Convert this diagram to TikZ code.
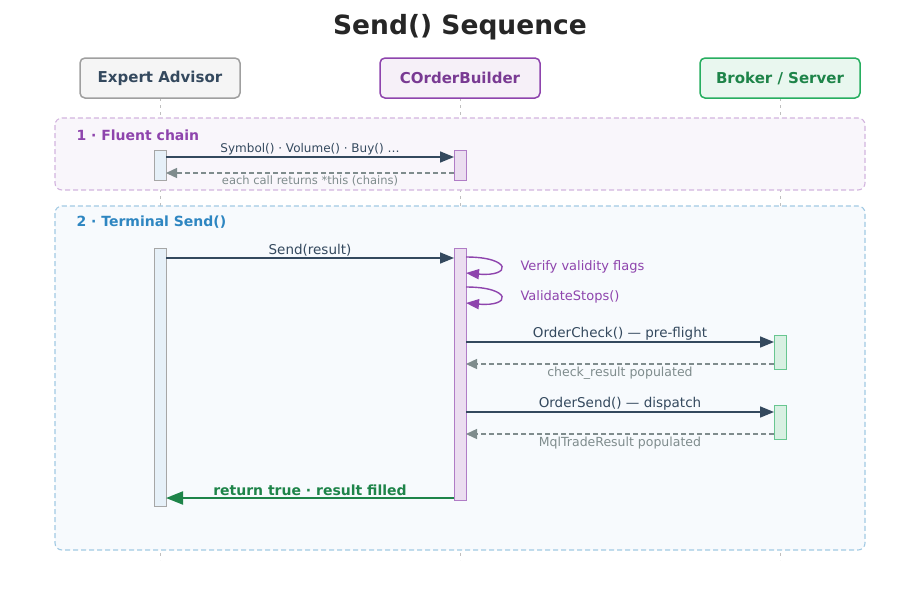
\documentclass[tikz,border=0pt]{standalone}
\usepackage{fontspec}
\setmainfont{DejaVu Sans}
\usetikzlibrary{arrows.meta}
\definecolor{dk}{HTML}{34495E}
\definecolor{gr}{HTML}{7F8C8D}
\definecolor{pu}{HTML}{8E44AD}
\definecolor{bl}{HTML}{2E86C1}
\definecolor{gn}{HTML}{1E8449}
\definecolor{gnb}{HTML}{27AE60}
\tikzset{
 hdr/.style={draw, line width=1.5pt, rounded corners=5pt, minimum width=160pt, minimum height=40pt, font=\bfseries\fontsize{15}{17}\selectfont},
 life/.style={draw=gray!50, dash pattern=on 3pt off 4pt, line width=0.8pt},
 grp/.style={dash pattern=on 5pt off 3pt, line width=1.1pt, rounded corners=7pt},
 bar/.style={draw, line width=1pt, minimum width=12pt, inner sep=0pt},
 msg/.style={draw=dk, line width=1.6pt, -{Triangle[length=14pt,width=11pt]}},
 ret/.style={draw=gr, line width=1.4pt, dash pattern=on 5pt off 3pt, -{Triangle[length=11pt,width=10pt]}},
 self/.style={draw=pu, line width=1.4pt, -{Triangle[length=13pt,width=10pt]}},
 lab/.style={font=\fontsize{13.5}{15}\selectfont, text=dk},
 rlab/.style={font=\fontsize{12.5}{14}\selectfont, text=gr},
}
\begin{document}
\begin{tikzpicture}[x=1pt,y=-1pt]
\useasboundingbox (0,0) rectangle (920,600);
\node[font=\bfseries\fontsize{26.5}{30}\selectfont, text=black!85] (title) at (460,27) {Send() Sequence};
% lifelines
\draw[life] (160,98) -- (160,560);
\draw[life] (460,98) -- (460,560);
\draw[life] (780,98) -- (780,560);
% groups
\draw[grp, draw=pu!40, fill=pu!5] (55,118) rectangle (865,190);
\node[anchor=west, text=pu, font=\bfseries\fontsize{14}{16}\selectfont] (g1) at (73,135) {1 · Fluent chain};
\draw[grp, draw=bl!45, fill=bl!4] (55,206) rectangle (865,550);
\node[anchor=west, text=bl, font=\bfseries\fontsize{14}{16}\selectfont] (g2) at (73,222) {2 · Terminal Send()};
% headers
\node[hdr, draw=gray!75, fill=gray!8, text=dk] (ea) at (160,78) {Expert Advisor};
\node[hdr, draw=pu, fill=pu!8, text=pu!85!black] (cb) at (460,78) {COrderBuilder};
\node[hdr, draw=gnb, fill=gnb!10, text=gn] (br) at (780,78) {Broker / Server};
% bars group 1
\node[bar, draw=gray!70, fill=bl!12, minimum height=30pt] (ea1) at (160,165) {};
\node[bar, draw=pu!70, fill=pu!18, minimum height=30pt] (cb1) at (460,165) {};
\draw[msg] (166,157) -- node[lab, font=\fontsize{12}{14}\selectfont, above=-2pt]{Symbol() · Volume() · Buy() …} (454,157);
\draw[ret] (454,173) -- node[rlab, font=\fontsize{11.5}{13}\selectfont, below=-1pt]{each call returns *this (chains)} (166,173);
% group 2 bars
\node[bar, draw=gray!70, fill=bl!12, minimum height=258pt] (ea2) at (160,377) {};
\node[bar, draw=pu!70, fill=pu!18, minimum height=252pt] (cb2) at (460,374) {};
\node[bar, draw=gnb!70, fill=gnb!18, minimum height=34pt] (br1) at (780,352) {};
\node[bar, draw=gnb!70, fill=gnb!18, minimum height=34pt] (br2) at (780,422) {};
\draw[msg] (166,258) -- node[lab, above=-2pt]{Send(result)} (454,258);
\draw[self] (466,257) .. controls (512,257) and (512,277) .. (466,273);
\node[anchor=west, text=pu, font=\fontsize{13}{15}\selectfont] (v1) at (517,267) {Verify validity flags};
\draw[self] (466,287) .. controls (512,287) and (512,307) .. (466,303);
\node[anchor=west, text=pu, font=\fontsize{13}{15}\selectfont] (v2) at (517,297) {ValidateStops()};
\draw[msg] (466,342) -- node[lab, above=-2pt]{OrderCheck() — pre-flight} (774,342);
\draw[ret] (774,364) -- node[rlab, below=-1pt]{check\_result populated} (466,364);
\draw[msg] (466,412) -- node[lab, above=-2pt]{OrderSend() — dispatch} (774,412);
\draw[ret] (774,434) -- node[rlab, below=-1pt]{MqlTradeResult populated} (466,434);
\draw[draw=gn, line width=2pt, -{Triangle[length=17pt,width=13pt]}] (454,498) -- node[above=-2pt, text=gn, font=\bfseries\fontsize{14}{16}\selectfont]{return true · result filled} (166,498);
\end{tikzpicture}
\end{document}
